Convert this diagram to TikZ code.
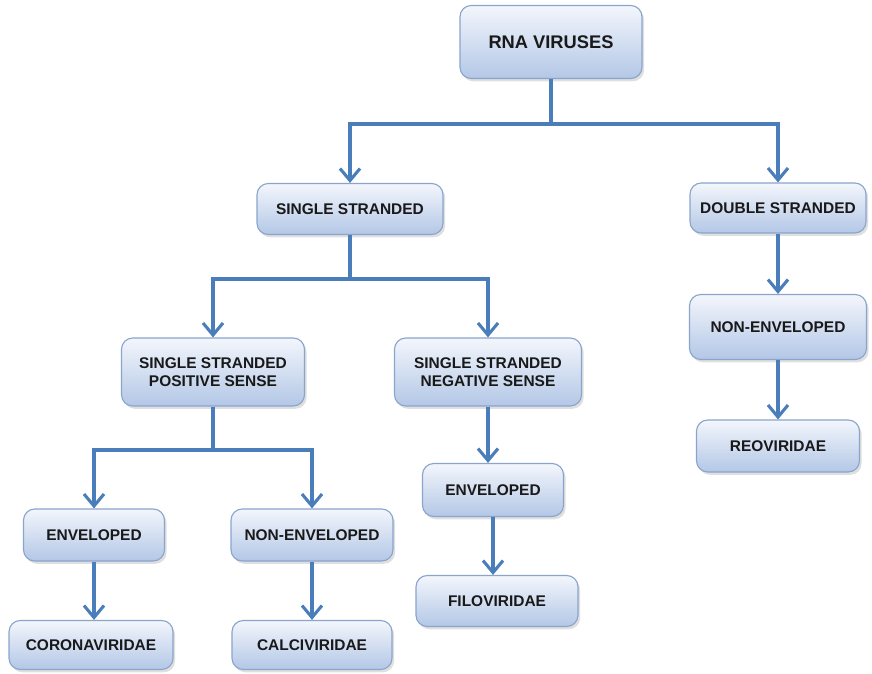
\documentclass[tikz,border=0pt]{standalone}
\usepackage{fontspec}
\setmainfont{Liberation Sans}
\usetikzlibrary{arrows.meta,shadows}

\definecolor{boxtop}{HTML}{F3F6FC}
\definecolor{boxbot}{HTML}{B3C7E6}
\definecolor{boxline}{HTML}{8AA4CC}
\definecolor{linkblue}{HTML}{4A7EBB}

\tikzset{
  vbox/.style={draw=boxline, line width=0.8pt, rounded corners=8pt, top color=boxtop, bottom color=boxbot,
    drop shadow={shadow xshift=1.5pt, shadow yshift=-2pt, opacity=0.25},
    align=center, font=\fontsize{11}{13}\selectfont\bfseries, text=black!90},
  link/.style={draw=linkblue, line width=2.2pt, -{Straight Barb[length=3mm,width=5mm,line width=2.2pt]}},
}

\begin{document}
\begin{tikzpicture}[x=0.025cm, y=-0.025cm]
  \useasboundingbox (0,0) rectangle (872,674);
  % boxes
  \node[vbox, minimum width=182*0.025cm, minimum height=73*0.025cm, font=\fontsize{13}{15}\selectfont\bfseries] (rna) at (551,42) {RNA VIRUSES};
  \node[vbox, minimum width=186*0.025cm, minimum height=51*0.025cm] (ss) at (350,209) {SINGLE STRANDED};
  \node[vbox, minimum width=176*0.025cm, minimum height=50*0.025cm] (ds) at (778,208) {DOUBLE STRANDED};
  \node[vbox, minimum width=183*0.025cm, minimum height=68*0.025cm] (pos) at (213,372) {SINGLE STRANDED\\POSITIVE SENSE};
  \node[vbox, minimum width=187*0.025cm, minimum height=68*0.025cm] (neg) at (488,372) {SINGLE STRANDED\\NEGATIVE SENSE};
  \node[vbox, minimum width=177*0.025cm, minimum height=65*0.025cm] (nonenvr) at (778,327) {NON-ENVELOPED};
  \node[vbox, minimum width=163*0.025cm, minimum height=52*0.025cm] (reo) at (778,446) {REOVIRIDAE};
  \node[vbox, minimum width=141*0.025cm, minimum height=53*0.025cm] (envm) at (493,490) {ENVELOPED};
  \node[vbox, minimum width=162*0.025cm, minimum height=51*0.025cm] (filo) at (497,601) {FILOVIRIDAE};
  \node[vbox, minimum width=141*0.025cm, minimum height=52*0.025cm] (envl) at (94,535) {ENVELOPED};
  \node[vbox, minimum width=162*0.025cm, minimum height=52*0.025cm] (nonenvl) at (312,535) {NON-ENVELOPED};
  \node[vbox, minimum width=164*0.025cm, minimum height=49*0.025cm] (corona) at (91,645) {CORONAVIRIDAE};
  \node[vbox, minimum width=160*0.025cm, minimum height=49*0.025cm] (calci) at (312,645) {CALCIVIRIDAE};
  % branching connectors
  \draw[link] (rna.south) -- (rna.south |- 0,124) -| (ss.north);
  \draw[link] (rna.south) -- (rna.south |- 0,124) -| (ds.north);
  \draw[link] (ss.south) -- (ss.south |- 0,279) -| (pos.north);
  \draw[link] (ss.south) -- (ss.south |- 0,279) -| (neg.north);
  \draw[link] (pos.south) -- (pos.south |- 0,450) -| (envl.north);
  \draw[link] (pos.south) -- (pos.south |- 0,450) -| (nonenvl.north);
  % straight connectors
  \draw[link] (ds) -- (nonenvr);
  \draw[link] (nonenvr) -- (reo);
  \draw[link] (neg.south) -- (neg.south |- envm.north);
  \draw[link] (envm.south) -- (envm.south |- filo.north);
  \draw[link] (envl.south) -- (envl.south |- corona.north);
  \draw[link] (nonenvl) -- (calci);
\end{tikzpicture}
\end{document}
